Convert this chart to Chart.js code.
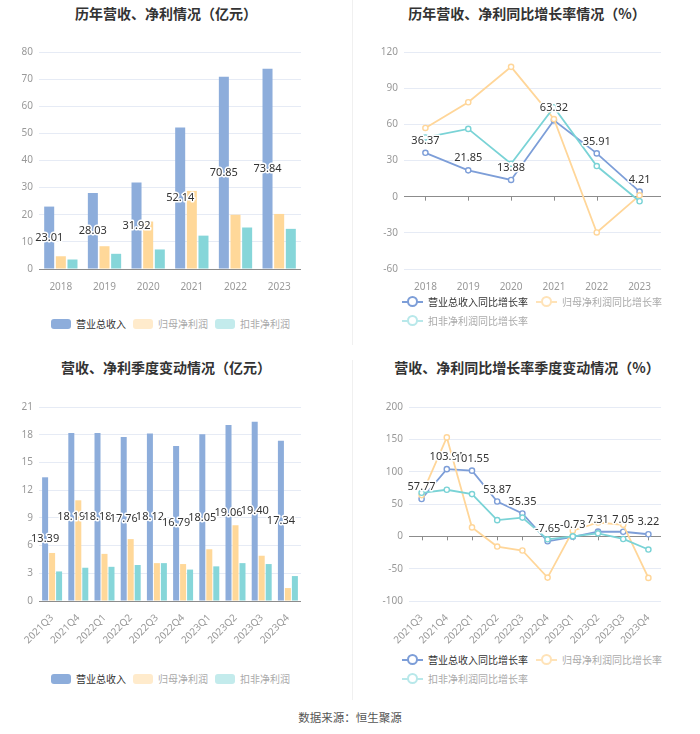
<!DOCTYPE html>
<html>
<head>
<meta charset="utf-8">
<script src="https://cdn.jsdelivr.net/npm/chart.js@4.4.0/dist/chart.umd.min.js"></script>
<style>
  body { margin: 0; background: #fff; font-family: "Noto Sans CJK SC", sans-serif; }
  #page { position: relative; width: 700px; height: 734px; overflow: hidden; }
  .box { position: absolute; }
  .title { position: absolute; font-size: 14px; font-weight: bold; color: #333; white-space: nowrap; transform: translate(-50%, -50%); }
  .divider { position: absolute; left: 352px; width: 1px; background: #f0f0f0; }
  .legend { position: absolute; display: flex; flex-wrap: wrap; font-size: 10px; line-height: 19px; white-space: nowrap; }
  .legend .item { display: flex; align-items: center; margin-right: 7px; }
  .legend .sw { width: 20px; height: 10px; border-radius: 3px; margin-right: 5px; }
  .legend .licon { position: relative; width: 21px; height: 12px; margin-right: 5px; }
  .legend .licon::before { content: ''; position: absolute; left: 0; right: 0; top: 5px; height: 2px; background: var(--c); }
  .legend .licon i { position: absolute; left: 5px; top: 0.5px; width: 7px; height: 7px; border: 2px solid var(--c); border-radius: 50%; background: #fff; }
  #footer { position: absolute; left: 350px; top: 717px; transform: translate(-50%, -50%); font-size: 11.5px; color: #555; white-space: nowrap; }
</style>
</head>
<body>
<div id="page">
  <div class="divider" style="top:0;height:345px"></div>
  <div class="divider" style="top:360px;height:340px"></div>

  <div class="title" style="left:166px;top:13px">历年营收、净利情况（亿元）</div>
  <div class="title" style="left:527px;top:13px">历年营收、净利同比增长率情况（%）</div>
  <div class="title" style="left:166px;top:367px">营收、净利季度变动情况（亿元）</div>
  <div class="title" style="left:527px;top:367px">营收、净利同比增长率季度变动情况（%）</div>

  <div class="box" style="left:0;top:40px;width:350px;height:260px"><canvas id="yearBar"></canvas></div>
  <div class="box" style="left:350px;top:40px;width:350px;height:260px"><canvas id="yearLine"></canvas></div>
  <div class="box" style="left:0;top:395px;width:350px;height:250px"><canvas id="quarterBar"></canvas></div>
  <div class="box" style="left:350px;top:395px;width:350px;height:250px"><canvas id="quarterLine"></canvas></div>

  <div class="legend" id="legYearBar" style="left:51px;top:314px"></div>
  <div class="legend" id="legYearLine" style="left:402px;top:292px;width:280px"></div>
  <div class="legend" id="legQuarterBar" style="left:51px;top:669px"></div>
  <div class="legend" id="legQuarterLine" style="left:402px;top:650px;width:280px"></div>

  <div id="footer">数据来源：恒生聚源</div>
</div>

<script>
// 年度数据（亿元 / %）
const years = ['2018', '2019', '2020', '2021', '2022', '2023'];
const yearRevenue = [23.01, 28.03, 31.92, 52.14, 70.85, 73.84];
const yearNetProfit = [4.7, 8.4, 17.5, 28.8, 20.0, 20.3];
const yearDeducted = [3.5, 5.6, 7.2, 12.3, 15.3, 14.8];
const yearRevenueGrowth = [36.37, 21.85, 13.88, 63.32, 35.91, 4.21];
const yearNetProfitGrowth = [57.0, 78.3, 107.7, 64.4, -29.7, 1.1];
const yearDeductedGrowth = [49.1, 56.2, 27.3, 74.2, 25.4, -3.8];

// 季度数据
const quarters = ['2021Q3', '2021Q4', '2022Q1', '2022Q2', '2022Q3', '2022Q4', '2023Q1', '2023Q2', '2023Q3', '2023Q4'];
const qRevenue = [13.39, 18.19, 18.18, 17.76, 18.12, 16.79, 18.05, 19.06, 19.40, 17.34];
const qNetProfit = [5.2, 10.9, 5.1, 6.7, 4.1, 4.0, 5.6, 8.2, 4.9, 1.4];
const qDeducted = [3.2, 3.6, 3.7, 3.9, 4.1, 3.4, 3.75, 4.1, 4.0, 2.7];
const qRevenueGrowth = [57.77, 103.91, 101.55, 53.87, 35.35, -7.65, -0.73, 7.31, 7.05, 3.22];
const qNetProfitGrowth = [63.8, 153.0, 13.8, -15.8, -21.9, -63.8, 8.7, 21.4, 17.9, -64.3];
const qDeductedGrowth = [67.3, 72.0, 65.3, 25.0, 29.0, -4.6, 0.0, 4.6, -4.1, -20.4];

const barNames = ['营业总收入', '归母净利润', '扣非净利润'];
const lineNames = ['营业总收入同比增长率', '归母净利润同比增长率', '扣非净利润同比增长率'];

const barColors = ['#8DADDB', '#FFD899', '#86D6D9'];
const barLegendColors = ['#8DADDB', '#FFEBCC', '#C3EBEC'];
const lineColors = ['#7D9ED8', '#FFD699', '#7AD3D6'];
const lineLegendColors = ['#7D9ED8', '#FFE3B8', '#B8E8EA'];
const legendTextColors = ['#333', '#aaa', '#aaa'];

const GRID = '#E6EBF5';
const AXIS = '#8C8C8C';
const TICK = '#999';

Chart.defaults.font.family = '"Noto Sans", "Noto Sans CJK SC", sans-serif';

// 第一组数据的数值标签
const valueLabels = {
  id: 'valueLabels',
  afterDatasetsDraw(chart) {
    const ctx = chart.ctx;
    const meta = chart.getDatasetMeta(0);
    const values = chart.data.datasets[0].data;
    ctx.save();
    ctx.font = '11px "Noto Sans", sans-serif';
    ctx.textAlign = 'center';
    ctx.textBaseline = 'middle';
    ctx.lineWidth = 3;
    ctx.lineJoin = 'round';
    ctx.strokeStyle = '#fff';
    ctx.fillStyle = '#333';
    meta.data.forEach((el, i) => {
      const txt = values[i].toFixed(2);
      const y = meta.type === 'bar' ? (el.y + el.base) / 2 : el.y - 12;
      ctx.strokeText(txt, el.x, y);
      ctx.fillText(txt, el.x, y);
    });
    ctx.restore();
  }
};

// 折线图零轴上的刻度
const zeroTicks = {
  id: 'zeroTicks',
  beforeDatasetsDraw(chart) {
    const { ctx, scales: { x, y } } = chart;
    const y0 = y.getPixelForValue(0);
    ctx.save();
    ctx.strokeStyle = AXIS;
    ctx.lineWidth = 1;
    ctx.beginPath();
    x.ticks.forEach((t, i) => {
      const px = Math.round(x.getPixelForTick(i)) + 0.5;
      ctx.moveTo(px, y0);
      ctx.lineTo(px, y0 + 4);
    });
    ctx.stroke();
    ctx.restore();
  }
};

function baseOptions(cfg) {
  return {
    responsive: true,
    maintainAspectRatio: false,
    animation: false,
    layout: { padding: { top: cfg.top, right: cfg.right, left: 0, bottom: 0 } },
    plugins: { legend: { display: false }, title: { display: false }, tooltip: { enabled: false } },
    scales: {
      x: {
        offset: true,
        grid: { display: false },
        border: { display: false },
        ticks: {
          color: TICK, font: { size: 10 }, padding: cfg.xPad,
          minRotation: cfg.rot, maxRotation: cfg.rot, autoSkip: false
        },
        afterFit: s => { s.height = cfg.xh; }
      },
      y: {
        min: cfg.min, max: cfg.max,
        ticks: { stepSize: cfg.step, color: TICK, font: { size: 10 }, padding: 6 },
        grid: { color: c => c.tick.value === 0 ? AXIS : GRID, drawTicks: false },
        border: { display: false },
        afterFit: s => { s.width = cfg.yw; }
      }
    }
  };
}

function barChart(id, labels, series, cfg) {
  return new Chart(document.getElementById(id), {
    type: 'bar',
    data: {
      labels: labels,
      datasets: series.map((d, i) => ({
        label: barNames[i],
        data: d,
        backgroundColor: barColors[i],
        categoryPercentage: 0.8,
        barPercentage: 0.86
      }))
    },
    options: baseOptions(cfg),
    plugins: [valueLabels]
  });
}

function lineChart(id, labels, series, cfg) {
  return new Chart(document.getElementById(id), {
    type: 'line',
    data: {
      labels: labels,
      datasets: series.map((d, i) => ({
        label: lineNames[i],
        data: d,
        borderColor: lineColors[i],
        backgroundColor: '#fff',
        borderWidth: 1.8,
        pointRadius: 2.6,
        pointBorderWidth: 1.4,
        pointBackgroundColor: '#fff',
        pointBorderColor: lineColors[i],
        tension: 0,
        order: 3 - i
      }))
    },
    options: baseOptions(cfg),
    plugins: [zeroTicks, valueLabels]
  });
}

function buildLegend(elId, chart, kind) {
  const box = document.getElementById(elId);
  chart.data.datasets.forEach((ds, i) => {
    const item = document.createElement('div');
    item.className = 'item';
    if (kind === 'bar') {
      item.innerHTML = '<span class="sw" style="background:' + barLegendColors[i] + '"></span>';
    } else {
      item.style.marginRight = '8px';
      item.innerHTML = '<span class="licon" style="--c:' + lineLegendColors[i] + '"><i></i></span>';
    }
    const txt = document.createElement('span');
    txt.textContent = ds.label;
    txt.style.color = legendTextColors[i];
    item.appendChild(txt);
    box.appendChild(item);
  });
}

const c1 = barChart('yearBar', years, [yearRevenue, yearNetProfit, yearDeducted],
  { top: 9, right: 49, yw: 39, xh: 31, xPad: 4, rot: 0, min: 0, max: 80, step: 10 });
const c2 = lineChart('yearLine', years, [yearRevenueGrowth, yearNetProfitGrowth, yearDeductedGrowth],
  { top: 9, right: 39, yw: 54, xh: 31, xPad: 4, rot: 0, min: -60, max: 120, step: 30 });
const c3 = barChart('quarterBar', quarters, [qRevenue, qNetProfit, qDeducted],
  { top: 10, right: 49, yw: 39, xh: 44, xPad: 3, rot: 45, min: 0, max: 21, step: 3 });
const c4 = lineChart('quarterLine', quarters, [qRevenueGrowth, qNetProfitGrowth, qDeductedGrowth],
  { top: 10, right: 39, yw: 59, xh: 44, xPad: 3, rot: 45, min: -100, max: 200, step: 50 });

buildLegend('legYearBar', c1, 'bar');
buildLegend('legYearLine', c2, 'line');
buildLegend('legQuarterBar', c3, 'bar');
buildLegend('legQuarterLine', c4, 'line');
</script>
</body>
</html>
